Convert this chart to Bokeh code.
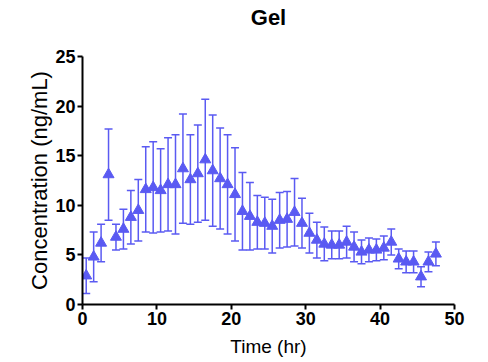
from bokeh.plotting import figure
from bokeh.models import ColumnDataSource, Whisker, TeeHead, FixedTicker, Range1d, Title
from bokeh.embed import file_html
from bokeh.resources import INLINE

time_hr = [0.5, 1.5, 2.5, 3.5, 4.5, 5.5, 6.5, 7.5, 8.5, 9.5, 10.5, 11.5,
           12.5, 13.5, 14.5, 15.5, 16.5, 17.5, 18.5, 19.5, 20.5, 21.5, 22.5, 23.5,
           24.5, 25.5, 26.5, 27.5, 28.5, 29.5, 30.5, 31.5, 32.5, 33.5, 34.5, 35.5,
           36.5, 37.5, 38.5, 39.5, 40.5, 41.5, 42.5, 43.5, 44.5, 45.5, 46.5, 47.5]
conc_mean = [2.9, 4.8, 6.2, 13.1, 6.8, 7.6, 8.8, 9.5, 11.6, 11.8, 11.5, 12.1,
             12.1, 13.7, 12.6, 13.2, 14.6, 13.5, 12.7, 12.1, 11.1, 9.4, 8.9, 8.3,
             8.2, 7.9, 8.5, 8.6, 9.3, 8.2, 7.2, 6.5, 6.1, 6.0, 6.0, 6.3,
             5.8, 5.3, 5.5, 5.5, 5.7, 6.3, 4.6, 4.3, 4.3, 2.8, 4.3, 5.1]
conc_sd = [1.8, 2.5, 1.9, 4.6, 1.3, 2.0, 2.7, 3.1, 4.3, 4.6, 4.2, 4.7,
           5.0, 5.5, 4.5, 4.9, 6.1, 5.6, 5.1, 5.0, 4.7, 3.9, 3.4, 2.7,
           2.6, 2.7, 2.8, 2.8, 3.4, 2.5, 2.0, 1.8, 1.7, 1.4, 1.4, 1.6,
           1.5, 1.2, 1.2, 1.1, 1.2, 1.3, 1.0, 1.1, 1.1, 1.0, 1.0, 1.2]
x_ticks = [0, 10, 20, 30, 40, 50]
y_ticks = [0, 5, 10, 15, 20, 25]
title_text = "Gel"

color = "#5a5af2"
font = "Liberation Sans"

src = ColumnDataSource(dict(
    x=time_hr, y=conc_mean,
    upper=[m + s for m, s in zip(conc_mean, conc_sd)],
    lower=[m - s for m, s in zip(conc_mean, conc_sd)],
))

p = figure(frame_width=372, frame_height=248, output_backend="svg", toolbar_location=None,
           x_range=Range1d(0, 50), y_range=Range1d(0, 25),
           min_border_left=82, min_border_right=26, min_border_top=56, min_border_bottom=50)

p.title.text = title_text
p.title.align = "center"
p.title.text_font = font
p.title.text_font_size = "22px"
p.title.text_font_style = "bold"
p.title.text_color = "black"
p.title.standoff = 0

# invisible spacer between the title and the plot frame
p.add_layout(Title(text=" ", text_font_size="1px", standoff=24), "above")

p.xgrid.visible = False
p.ygrid.visible = False
p.outline_line_color = None

for ax, ticks, lab, lsize, lstand in ((p.xaxis[0], x_ticks, "Time (hr)", "19px", 8),
                                       (p.yaxis[0], y_ticks, "Concentration (ng/mL)", "22px", 0)):
    ax.ticker = FixedTicker(ticks=ticks)
    ax.axis_label = lab
    ax.axis_label_text_font = font
    ax.axis_label_text_font_size = lsize
    ax.axis_label_text_font_style = "normal"
    ax.axis_label_text_color = "black"
    ax.major_label_text_font = font
    ax.major_label_text_font_size = "18px"
    ax.major_label_text_font_style = "bold"
    ax.major_label_text_color = "black"
    ax.axis_line_width = 2
    ax.axis_line_color = "black"
    ax.major_tick_line_width = 2
    ax.major_tick_line_color = "black"
    ax.major_tick_out = 5
    ax.major_tick_in = 0
    ax.minor_tick_line_color = None
    ax.major_label_standoff = 2
    ax.axis_label_standoff = lstand

w = Whisker(source=src, base="x", upper="upper", lower="lower", dimension="height",
            line_color=color, line_width=1.5,
            upper_head=TeeHead(size=8, line_color=color, line_width=1.5),
            lower_head=TeeHead(size=8, line_color=color, line_width=1.5))
p.add_layout(w)
p.scatter("x", "y", source=src, marker="triangle", size=11, fill_color=color, line_color=color)

open("out.html", "w").write(file_html(p, INLINE))
